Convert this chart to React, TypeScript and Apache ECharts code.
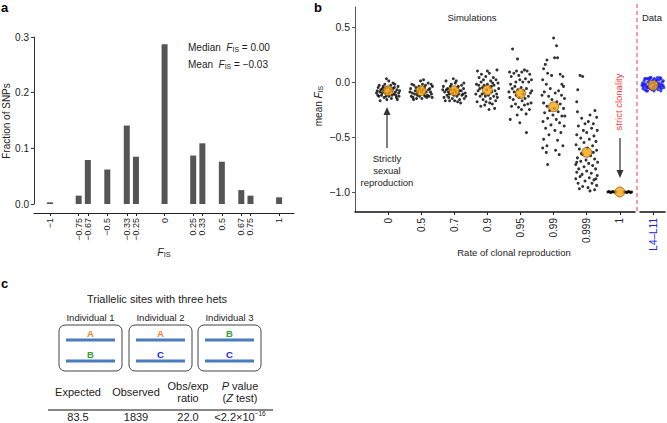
import React, { useEffect, useRef } from 'react';
import * as echarts from 'echarts';

const FONT = '"Liberation Sans", Arial, Helvetica, sans-serif';
const TXT = '#222';

// ---------- Panel a ----------
const FIS_TICKS = [-1, -0.75, -0.67, -0.5, -0.33, -0.25, 0, 0.25, 0.33, 0.5, 0.67, 0.75, 1];
const FIS_LABELS = ['−1', '−0.75', '−0.67', '−0.5', '−0.33', '−0.25', '0', '0.25', '0.33', '0.5', '0.67', '0.75', '1'];
const FRACTION_SNPS = [0.003, 0.015, 0.079, 0.062, 0.141, 0.085, 0.287, 0.087, 0.109, 0.076, 0.025, 0.015, 0.012];
const MEDIAN_FIS = '0.00';
const MEAN_FIS = '−0.03';

// ---------- Panel b ----------
const RATES = ['0', '0.5', '0.7', '0.9', '0.95', '0.99', '0.999', '1'];
const MEAN_FIS_BY_RATE = [-0.08, -0.08, -0.08, -0.075, -0.105, -0.225, -0.64, -1.0];
const DATA_LABEL = 'L4–L11';
const DATA_MEAN = -0.03;

// simulation replicates: [jitter, mean F_IS]
const SIM_0 = [[-0.30,-0.05],[-0.25,-0.09],[-0.20,-0.12],[-0.33,-0.08],[-0.28,-0.13],[-0.15,-0.04],[-0.10,-0.02],[-0.05,0.03],[0.02,0.01],[0.08,-0.03],[0.14,-0.06],[0.20,-0.02],[0.27,-0.07],[0.32,-0.10],[0.25,-0.14],[0.18,-0.11],[0.10,-0.15],[0.03,-0.13],[-0.04,-0.16],[-0.12,-0.14],[-0.22,-0.07],[-0.17,-0.06],[-0.08,-0.10],[0.05,-0.09],[0.12,-0.12],[0.22,-0.09],[0.30,-0.04],[-0.35,-0.10],[-0.27,-0.03],[0.35,-0.08],[0.15,-0.01],[-0.02,-0.05],[-0.18,-0.10],[0.07,-0.06],[0.28,-0.16],[-0.24,-0.17],[0.00,-0.11],[-0.13,-0.08],[0.19,-0.05],[-0.06,-0.13],[0.11,-0.08],[-0.31,-0.12],[0.24,-0.12],[-0.09,-0.06],[0.33,-0.13]];
const SIM_05 = [[-0.32,-0.06],[-0.27,-0.10],[-0.22,-0.03],[-0.30,-0.13],[-0.18,-0.08],[-0.12,-0.12],[-0.07,-0.04],[-0.02,0.01],[0.04,-0.02],[0.10,-0.05],[0.15,-0.09],[0.21,-0.01],[0.26,-0.06],[0.31,-0.11],[0.34,-0.04],[0.24,-0.13],[0.17,-0.14],[0.09,-0.11],[0.02,-0.15],[-0.05,-0.13],[-0.14,-0.15],[-0.25,-0.14],[-0.34,-0.09],[-0.20,-0.11],[-0.09,-0.08],[0.06,-0.07],[0.13,-0.03],[0.28,-0.09],[-0.16,-0.05],[0.00,-0.09],[0.19,-0.12],[-0.28,-0.02],[0.33,-0.14],[-0.04,-0.06],[0.11,-0.13],[0.22,-0.07],[-0.11,-0.10],[0.07,0.02],[-0.23,-0.16],[0.30,-0.02]];
const SIM_07 = [[-0.33,-0.04],[-0.29,-0.09],[-0.25,0.01],[-0.31,-0.14],[-0.20,-0.06],[-0.15,-0.11],[-0.09,-0.02],[-0.03,0.03],[0.03,-0.01],[0.09,-0.05],[0.16,-0.08],[0.22,-0.03],[0.28,-0.06],[0.33,-0.10],[0.30,-0.15],[0.23,-0.12],[0.16,-0.16],[0.08,-0.13],[0.01,-0.17],[-0.06,-0.15],[-0.14,-0.17],[-0.22,-0.12],[-0.27,-0.17],[-0.18,-0.09],[-0.10,-0.07],[0.05,-0.09],[0.12,-0.04],[0.26,-0.11],[-0.12,-0.04],[0.00,-0.07],[0.19,-0.19],[-0.24,-0.07],[0.35,-0.13],[-0.05,-0.10],[0.13,-0.11],[0.21,-0.08],[-0.35,-0.07],[0.06,0.01],[-0.17,-0.14],[0.29,-0.01],[0.10,-0.18],[-0.01,-0.12]];
const SIM_09 = [[-0.30,0.10],[-0.25,0.04],[-0.33,-0.02],[-0.28,-0.08],[-0.22,-0.13],[-0.31,-0.18],[-0.18,0.07],[-0.12,0.02],[-0.15,-0.05],[-0.09,-0.10],[-0.13,-0.16],[-0.20,-0.22],[-0.05,0.05],[0.00,-0.02],[-0.02,-0.07],[0.03,-0.12],[-0.04,-0.18],[0.06,0.08],[0.10,0.01],[0.08,-0.05],[0.13,-0.09],[0.09,-0.15],[0.15,-0.20],[0.18,0.04],[0.20,-0.03],[0.23,-0.08],[0.19,-0.13],[0.25,-0.17],[0.29,0.11],[0.32,-0.01],[0.34,-0.06],[0.28,-0.11],[0.22,-0.24],[-0.26,-0.03],[-0.08,-0.21],[0.05,-0.25],[-0.16,-0.11],[0.12,-0.04],[-0.35,-0.11],[0.30,-0.14],[0.00,0.10],[-0.10,-0.03],[0.16,-0.01],[-0.23,-0.06],[0.26,0.02],[-0.06,-0.13],[0.07,-0.19],[-0.19,0.00]];
const SIM_095 = [[-0.24,0.30],[-0.09,0.21],[-0.33,0.09],[-0.28,0.05],[-0.20,0.08],[-0.12,0.10],[-0.05,0.06],[0.04,0.09],[0.12,0.11],[0.20,0.10],[0.28,0.07],[0.33,0.02],[0.25,0.00],[0.15,0.03],[0.07,0.00],[-0.02,0.02],[-0.14,0.00],[-0.30,-0.02],[-0.25,-0.06],[-0.17,-0.04],[-0.08,-0.07],[0.02,-0.05],[0.10,-0.08],[0.18,-0.06],[0.30,-0.10],[0.24,-0.13],[0.14,-0.15],[0.05,-0.17],[-0.04,-0.14],[-0.13,-0.12],[-0.22,-0.16],[-0.32,-0.14],[-0.27,-0.22],[-0.15,-0.20],[-0.06,-0.23],[0.03,-0.25],[0.12,-0.21],[0.22,-0.20],[0.32,-0.19],[0.27,-0.25],[0.17,-0.29],[-0.10,-0.30],[-0.31,-0.34],[-0.02,-0.37],[0.18,-0.46],[0.34,-0.08],[-0.35,-0.09],[0.08,-0.11],[-0.19,-0.09]];
const SIM_099 = [[0.00,0.40],[0.09,0.33],[0.03,0.22],[0.12,0.22],[-0.20,0.20],[-0.25,0.16],[-0.30,0.12],[-0.18,0.08],[0.20,0.07],[0.28,0.05],[-0.33,0.02],[-0.22,-0.02],[0.30,-0.04],[-0.10,-0.06],[0.15,-0.08],[-0.28,-0.09],[0.05,-0.10],[0.24,-0.12],[-0.15,-0.13],[0.33,-0.15],[-0.05,-0.16],[0.10,-0.18],[-0.30,-0.19],[0.20,-0.20],[-0.20,-0.22],[0.02,-0.24],[0.30,-0.24],[-0.12,-0.26],[0.14,-0.27],[-0.27,-0.28],[-0.02,-0.30],[0.25,-0.31],[-0.18,-0.33],[0.08,-0.34],[-0.32,-0.36],[0.18,-0.37],[-0.08,-0.39],[0.32,-0.40],[-0.24,-0.42],[0.04,-0.44],[0.22,-0.46],[-0.14,-0.48],[-0.30,-0.52],[0.12,-0.53],[-0.20,-0.58],[0.28,-0.58],[-0.33,-0.60],[0.06,-0.62],[-0.22,-0.64],[0.17,-0.66],[-0.18,-0.75],[0.34,-0.31],[-0.35,-0.12],[0.25,-0.02],[-0.06,0.06]];
const SIM_0999 = [[-0.20,0.06],[-0.12,0.05],[-0.27,-0.07],[-0.30,-0.18],[-0.28,-0.27],[0.25,-0.26],[0.10,-0.30],[0.30,-0.32],[-0.15,-0.33],[0.05,-0.36],[-0.05,-0.38],[0.20,-0.38],[-0.25,-0.40],[0.15,-0.42],[-0.10,-0.44],[0.32,-0.44],[0.00,-0.46],[-0.30,-0.48],[0.22,-0.49],[-0.18,-0.51],[0.08,-0.52],[0.28,-0.54],[-0.08,-0.55],[-0.32,-0.57],[0.18,-0.58],[0.02,-0.60],[-0.22,-0.61],[0.30,-0.62],[-0.12,-0.66],[0.12,-0.67],[-0.28,-0.69],[0.24,-0.70],[-0.02,-0.71],[-0.18,-0.72],[0.33,-0.73],[0.06,-0.74],[-0.33,-0.75],[0.18,-0.76],[-0.08,-0.77],[-0.24,-0.79],[0.27,-0.79],[0.00,-0.81],[-0.30,-0.82],[0.14,-0.83],[-0.14,-0.84],[0.32,-0.85],[-0.20,-0.86],[0.08,-0.87],[-0.33,-0.88],[0.22,-0.89],[-0.05,-0.90],[-0.26,-0.92],[0.16,-0.92],[0.30,-0.94],[-0.12,-0.95],[0.04,-0.96],[-0.22,-0.97],[0.10,-0.99],[0.24,-0.98],[-0.30,-0.73],[0.28,-0.88],[-0.16,-0.65],[0.20,-0.64]];
const SIM_1 = [[-0.36,-1.0],[-0.30,-1.0],[-0.24,-1.0],[-0.18,-1.0],[-0.12,-1.0],[0.12,-1.0],[0.18,-1.0],[0.24,-1.0],[0.30,-1.0],[0.36,-1.0],[-0.33,-0.995],[0.33,-1.005],[-0.27,-1.005],[0.27,-0.995],[-0.21,-0.995],[0.21,-1.005]];
const SIM_GROUPS = [SIM_0, SIM_05, SIM_07, SIM_09, SIM_095, SIM_099, SIM_0999, SIM_1];

// observed loci L4–L11: [jitter, F_IS]
const DATA_POINTS = [[-0.42,-0.01],[-0.38,-0.04],[-0.35,0.01],[-0.40,-0.06],[-0.30,-0.02],[-0.32,-0.07],[-0.26,0.03],[-0.24,-0.05],[-0.20,0.00],[-0.22,-0.08],[-0.16,-0.03],[-0.14,0.02],[-0.12,-0.06],[-0.08,0.04],[-0.06,-0.01],[-0.04,-0.07],[0.00,0.02],[0.02,-0.04],[0.04,-0.08],[0.06,0.03],[0.08,-0.02],[0.10,-0.06],[0.13,0.01],[0.15,-0.04],[0.18,0.04],[0.20,-0.07],[0.22,-0.01],[0.25,0.02],[0.27,-0.05],[0.30,-0.02],[0.32,0.03],[0.34,-0.06],[0.37,0.00],[0.40,-0.03],[0.43,-0.05],[-0.44,-0.03],[-0.36,-0.02],[-0.28,-0.04],[-0.18,-0.05],[-0.10,-0.02],[0.00,-0.05],[0.11,-0.03],[0.24,-0.04],[0.35,-0.03],[-0.33,0.03],[-0.19,0.03],[0.16,0.02],[0.28,0.04],[-0.02,0.00],[0.05,-0.01],[-0.27,-0.08],[0.31,-0.08],[0.41,0.01],[-0.12,0.04],[0.19,-0.03]];

// ---------- Panel c ----------
const INDIVIDUALS = ['Individual 1', 'Individual 2', 'Individual 3'];
const ALLELES = [['A', 'B'], ['A', 'C'], ['B', 'C']];
const ALLELE_COLORS: Record<string, string> = { A: '#F0822A', B: '#33A02C', C: '#2020F0' };
const EXPECTED = '83.5';
const OBSERVED = '1839';
const RATIO = '22.0';

function fisRich(size: number) {
  return {
    n: { fontSize: size, fontFamily: FONT, fill: TXT, color: TXT },
    f: { fontSize: size, fontFamily: FONT, fontStyle: 'italic', fill: TXT, color: TXT },
    s: { fontSize: size * 0.7, fontFamily: FONT, fill: TXT, color: TXT, padding: [size * 0.55, 0, 0, 0] },
  };
}

function text(x: number, y: number, t: string, o: any = {}) {
  const align = o.align || 'center';
  const va = o.va || 'middle';
  return {
    type: 'text', x, y, rotation: o.rotation || 0, z: 50,
    style: {
      text: t, fill: o.fill || TXT, fontSize: o.size || 10, fontFamily: FONT,
      fontWeight: o.weight || 'normal', fontStyle: o.style || 'normal',
      align, textAlign: align, verticalAlign: va, textVerticalAlign: va,
      rich: o.rich,
    },
  };
}

export default function App() {
  const ref = useRef<HTMLDivElement>(null);
  useEffect(() => {
    const chart = echarts.init(ref.current!, null, { renderer: 'svg' });

    const simData: number[][] = [];
    SIM_GROUPS.forEach((g, i) => g.forEach(([dx, y]) => simData.push([i + 1 + dx, y])));
    const meanData = MEAN_FIS_BY_RATE.map((v, i) => [i + 1, v]);
    const dataPts = DATA_POINTS.map(([dx, y]) => [0.52 + dx, y]);

    const fisIdx = (v: number) => FIS_TICKS.findIndex((t) => Math.abs(t - v) < 1e-6);
    const axisLine = (c: string, w = 1) => ({ show: true, onZero: false, lineStyle: { color: c, width: w } });

    const graphics: any[] = [];
    // panel letters
    graphics.push(text(1, 7, 'a', { align: 'left', size: 13, weight: 'bold', fill: '#000' }));
    graphics.push(text(314, 7, 'b', { align: 'left', size: 13, weight: 'bold', fill: '#000' }));
    graphics.push(text(1, 283, 'c', { align: 'left', size: 13, weight: 'bold', fill: '#000' }));

    // panel a texts
    graphics.push(text(6, 121, 'Fraction of SNPs', { rotation: Math.PI / 2, size: 10 }));
    graphics.push(text(188, 47, `{n|Median  }{f|F}{s|IS}{n| = ${MEDIAN_FIS}}`, { align: 'left', rich: fisRich(10) }));
    graphics.push(text(188, 64, `{n|Mean  }{f|F}{s|IS}{n| = ${MEAN_FIS}}`, { align: 'left', rich: fisRich(10) }));
    graphics.push(text(164, 252, '{f|F}{s|IS}', { rich: fisRich(10.5) }));

    // panel b texts
    graphics.push(text(318, 106, '{n|mean }{f|F}{s|IS}', { rotation: Math.PI / 2, rich: fisRich(10) }));
    graphics.push(text(472, 17, 'Simulations', { size: 9.5 }));
    graphics.push(text(652, 17, 'Data', { size: 9.5 }));
    graphics.push(text(514, 252, 'Rate of clonal reproduction', { size: 9.5 }));
    graphics.push(text(387, 158, 'Strictly', { size: 9.5 }));
    graphics.push(text(387, 170, 'sexual', { size: 9.5 }));
    graphics.push(text(387, 182, 'reproduction', { size: 9.5 }));
    graphics.push(text(618, 102, 'strict clonality', { rotation: Math.PI / 2, size: 9.5, fill: '#F03A3A' }));
    graphics.push({ type: 'line', z: 40, shape: { x1: 387, y1: 148, x2: 387, y2: 113 }, style: { stroke: '#555', lineWidth: 1.5 } });
    graphics.push({ type: 'polygon', z: 40, shape: { points: [[383.5, 115], [390.5, 115], [387, 107]] }, style: { fill: '#333' } });
    graphics.push({ type: 'line', z: 40, shape: { x1: 620, y1: 138, x2: 620, y2: 172 }, style: { stroke: '#555', lineWidth: 1.5 } });
    graphics.push({ type: 'polygon', z: 40, shape: { points: [[616.5, 170], [623.5, 170], [620, 178]] }, style: { fill: '#333' } });
    graphics.push({ type: 'line', z: 40, shape: { x1: 637, y1: 4, x2: 637, y2: 214 }, style: { stroke: '#F26060', lineWidth: 1.2, lineDash: [4, 3] } });

    // panel c
    graphics.push(text(157, 299, 'Triallelic sites with three hets', { size: 11 }));
    const boxX = [59, 129, 198];
    boxX.forEach((bx, i) => {
      const cx = bx + 31.5;
      graphics.push(text(cx, 317, INDIVIDUALS[i], { size: 9.5 }));
      graphics.push({ type: 'rect', z: 30, shape: { x: bx, y: 325, width: 63, height: 46, r: 6 }, style: { fill: 'none', stroke: '#444', lineWidth: 1 } });
      graphics.push({ type: 'line', z: 31, shape: { x1: bx + 7, y1: 340, x2: bx + 56, y2: 340 }, style: { stroke: '#4A7CC0', lineWidth: 3 } });
      graphics.push({ type: 'line', z: 31, shape: { x1: bx + 7, y1: 361, x2: bx + 56, y2: 361 }, style: { stroke: '#4A7CC0', lineWidth: 3 } });
      graphics.push(text(cx, 333, ALLELES[i][0], { size: 9.5, weight: 'bold', fill: ALLELE_COLORS[ALLELES[i][0]] }));
      graphics.push(text(cx, 354, ALLELES[i][1], { size: 9.5, weight: 'bold', fill: ALLELE_COLORS[ALLELES[i][1]] }));
    });
    const TS = 11;
    const hr = { n: { fontSize: TS, fontFamily: FONT, fill: TXT, color: TXT }, i: { fontSize: TS, fontFamily: FONT, fontStyle: 'italic', fill: TXT, color: TXT } };
    graphics.push(text(78, 392, 'Expected', { size: TS }));
    graphics.push(text(136, 392, 'Observed', { size: TS }));
    graphics.push(text(188, 386, 'Obs/exp', { size: TS }));
    graphics.push(text(188, 398, 'ratio', { size: TS }));
    graphics.push(text(240, 386, '{i|P}{n| value}', { rich: hr }));
    graphics.push(text(240, 398, '{n|(}{i|Z}{n| test)}', { rich: hr }));
    graphics.push({ type: 'line', z: 30, shape: { x1: 48, y1: 410, x2: 273, y2: 410 }, style: { stroke: '#111', lineWidth: 1 } });
    graphics.push(text(78, 417, EXPECTED, { size: TS }));
    graphics.push(text(136, 417, OBSERVED, { size: TS }));
    graphics.push(text(188, 417, RATIO, { size: TS }));
    graphics.push(text(240, 417, '{n|<2.2×10}{p|−16}', {
      rich: { n: { fontSize: TS, fontFamily: FONT, fill: TXT, color: TXT }, p: { fontSize: 6.5, fontFamily: FONT, fill: TXT, color: TXT, padding: [0, 0, 7, 0] } },
    }));

    const option: any = {
      animation: false,
      backgroundColor: '#fff',
      textStyle: { fontFamily: FONT },
      grid: [
        { left: 34, top: 37, width: 260, height: 167 },
        { left: 355, top: 7, width: 280, height: 205 },
        { left: 640, top: 7, width: 25, height: 205 },
      ],
      xAxis: [
        {
          type: 'value', gridIndex: 0, min: -1.14, max: 1.13, offset: 9,
          axisLine: axisLine('#222'), splitLine: { show: false },
          axisTick: { show: true, customValues: FIS_TICKS, length: 3, lineStyle: { color: '#222' } },
          axisLabel: { customValues: FIS_TICKS, rotate: 90, margin: 5, fontSize: 9, color: TXT, fontFamily: FONT, formatter: (v: number) => FIS_LABELS[fisIdx(v)] ?? '' },
        },
        {
          type: 'value', gridIndex: 1, min: 0, max: 8.46,
          axisLine: axisLine('#111', 1.5), splitLine: { show: false },
          axisTick: { show: true, customValues: [1, 2, 3, 4, 5, 6, 7, 8], length: 3, lineStyle: { color: '#222' } },
          axisLabel: { customValues: [1, 2, 3, 4, 5, 6, 7, 8], rotate: 90, margin: 6, fontSize: 10, color: TXT, fontFamily: FONT, formatter: (v: number) => RATES[Math.round(v) - 1] ?? '' },
        },
        {
          type: 'value', gridIndex: 2, min: 0, max: 1,
          axisLine: axisLine('#111', 1.5), splitLine: { show: false },
          axisTick: { show: true, customValues: [0.52], length: 3, lineStyle: { color: '#222' } },
          axisLabel: { customValues: [0.52], rotate: 90, margin: 6, fontSize: 10, color: '#2020F0', fontFamily: FONT, formatter: () => DATA_LABEL },
        },
      ],
      yAxis: [
        {
          type: 'value', gridIndex: 0, min: 0, max: 0.3, interval: 0.1,
          axisLine: axisLine('#333'), splitLine: { show: false },
          axisTick: { show: true, length: 3, lineStyle: { color: '#333' } },
          axisLabel: { margin: 5, fontSize: 10, color: TXT, fontFamily: FONT, formatter: (v: number) => v.toFixed(1) },
        },
        {
          type: 'value', gridIndex: 1, min: -1.182, max: 0.682,
          axisLine: axisLine('#555'), splitLine: { show: false },
          axisTick: { show: true, customValues: [-1, -0.5, 0, 0.5], length: 3, lineStyle: { color: '#555' } },
          axisLabel: { customValues: [-1, -0.5, 0, 0.5], margin: 5, fontSize: 10.5, color: TXT, fontFamily: FONT, formatter: (v: number) => v.toFixed(1).replace('-', '−') },
        },
        { type: 'value', gridIndex: 2, min: -1.182, max: 0.682, show: false },
      ],
      series: [
        {
          type: 'bar', xAxisIndex: 0, yAxisIndex: 0, barWidth: 6,
          itemStyle: { color: '#555' },
          data: FIS_TICKS.map((x, i) => [x, FRACTION_SNPS[i]]),
        },
        {
          type: 'scatter', xAxisIndex: 1, yAxisIndex: 1, symbolSize: 3, z: 3,
          itemStyle: { color: '#000' }, data: simData,
        },
        {
          type: 'scatter', xAxisIndex: 1, yAxisIndex: 1, symbolSize: 10, z: 5,
          itemStyle: { color: '#F7A30E', borderColor: '#6b4200', borderWidth: 0.8 }, data: meanData,
        },
        {
          type: 'scatter', xAxisIndex: 2, yAxisIndex: 2, symbolSize: 3.2, z: 3,
          itemStyle: { color: '#1414F0' }, data: dataPts,
        },
        {
          type: 'scatter', xAxisIndex: 2, yAxisIndex: 2, symbolSize: 10, z: 5,
          itemStyle: { color: '#F7A30E', borderColor: '#6b4200', borderWidth: 0.8 }, data: [[0.52, DATA_MEAN]],
        },
      ],
      graphic: graphics,
    };
    chart.setOption(option);
    return () => chart.dispose();
  }, []);
  return <div ref={ref} style={{ position: 'fixed', left: 0, top: 0, width: 667, height: 423, background: '#fff' }} />;
}
